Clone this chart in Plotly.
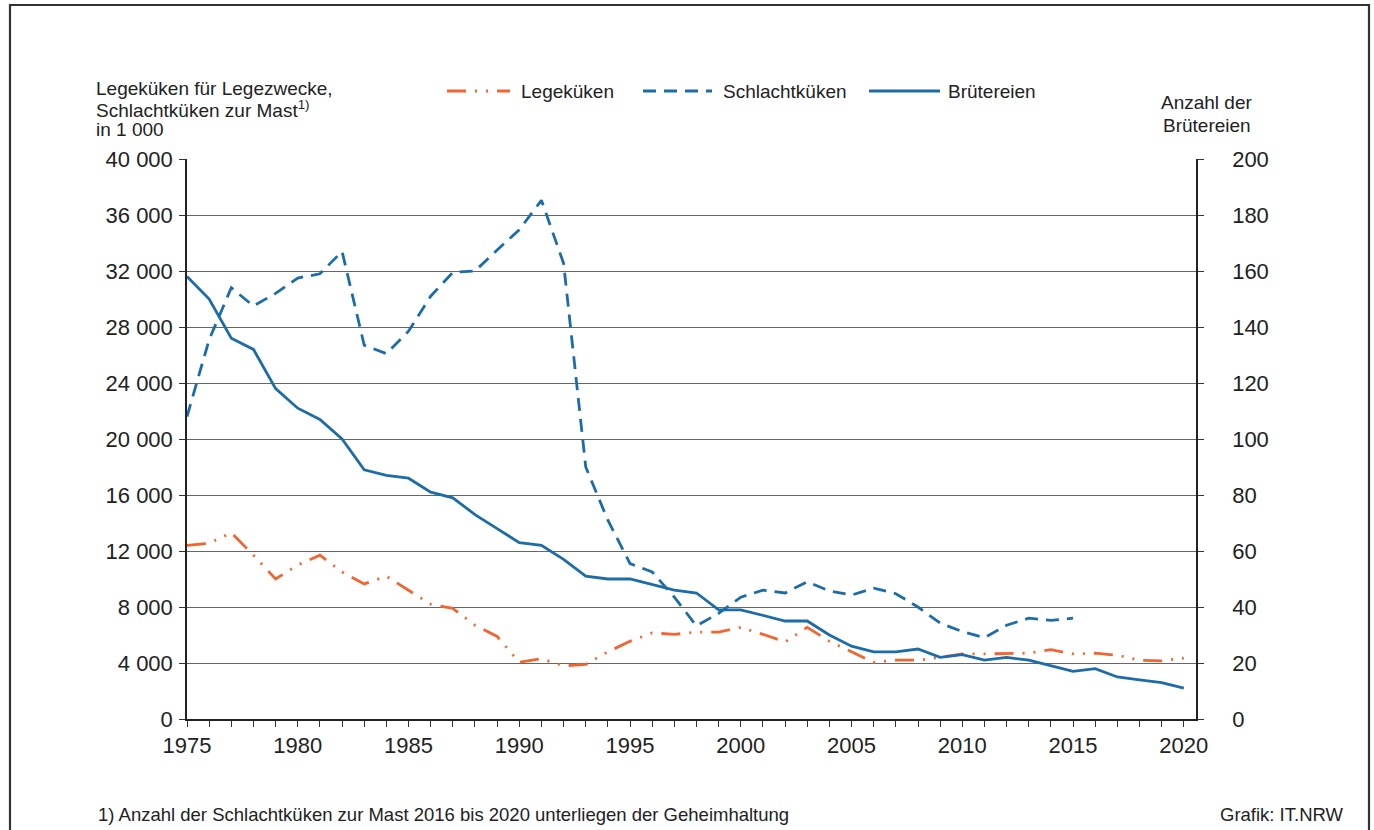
import plotly.graph_objects as go

years = list(range(1975, 2021))

legekueken = [12400, 12550, 13300, 11700, 10000, 11000, 11700, 10500, 9650, 10200,
              9200, 8200, 7900, 6700, 5900, 4050, 4300, 3800, 3900, 4800,
              5550, 6150, 6050, 6200, 6200, 6550, 6050, 5500, 6550, 5550,
              4800, 4050, 4200, 4200, 4400, 4650, 4650, 4700, 4700, 4950,
              4650, 4700, 4550, 4200, 4150, 4350]

schlachtkueken = [21600, 27100, 30800, 29500, 30400, 31500, 31800, 33400, 26700, 26100,
                  27700, 30200, 31900, 32000, 33500, 34950, 37050, 32550, 18000, 14200,
                  11100, 10500, 8700, 6650, 7550, 8700, 9200, 9000, 9800, 9150,
                  8850, 9350, 8950, 8000, 6850, 6250, 5800, 6700, 7200, 7050,
                  7200, None, None, None, None, None]

bruetereien = [158, 150, 136, 132, 118, 111, 107, 100, 89, 87,
               86, 81, 79, 73, 68, 63, 62, 57, 51, 50,
               50, 48, 46, 45, 39, 39, 37, 35, 35, 30,
               26, 24, 24, 25, 22, 23, 21, 22, 21, 19,
               17, 18, 15, 14, 13, 11]

left_ticks = list(range(0, 40001, 4000))
left_ticktext = ["0" if v == 0 else f"{v // 1000} 000" for v in left_ticks]

ORANGE = "#F26430"
BLUE = "#1B6CA8"
TXT = "#222222"
FONT = "Liberation Sans, Arial, sans-serif"

ORANGE_DASH = "19px,9px,2px,9px,2px,9px"
BLUE_DASH = "13px,8px"

# plot area in pixels
L, R, T, B = 187, 1196, 159, 719
W, H = 1374, 830


def px_x(px):
    return (px - L) / (R - L)


def px_y(py):
    return (B - py) / (B - T)


fig = go.Figure()
fig.add_trace(go.Scatter(x=years, y=legekueken, name="Legeküken", mode="lines",
                         line=dict(color=ORANGE, width=2.8, dash=ORANGE_DASH),
                         showlegend=False))
fig.add_trace(go.Scatter(x=years, y=schlachtkueken, name="Schlachtküken", mode="lines",
                         line=dict(color=BLUE, width=2.8, dash=BLUE_DASH),
                         connectgaps=False, showlegend=False))
fig.add_trace(go.Scatter(x=years, y=bruetereien, name="Brütereien", mode="lines",
                         line=dict(color=BLUE, width=2.8), yaxis="y2",
                         showlegend=False))

shapes = []
annotations = []

# frame around the graphic
shapes.append(dict(type="rect", xref="paper", yref="paper",
                   x0=px_x(10), x1=px_x(1369), y0=px_y(845), y1=px_y(5),
                   line=dict(color="#333333", width=2.2), layer="below"))

# manual legend
legend_items = [
    ("Legeküken", ORANGE, ORANGE_DASH, 447, 510, 519),
    ("Schlachtküken", BLUE, BLUE_DASH, 643, 712, 721),
    ("Brütereien", BLUE, "solid", 869, 940, 946),
]
ly = 91
for name, col, dash, x0, x1, tx in legend_items:
    shapes.append(dict(type="line", xref="paper", yref="paper",
                       x0=px_x(x0), x1=px_x(x1), y0=px_y(ly), y1=px_y(ly),
                       line=dict(color=col, width=2.8, dash=dash)))
    annotations.append(dict(text=name, xref="paper", yref="paper",
                            x=px_x(tx), y=px_y(ly), xanchor="left", yanchor="middle",
                            showarrow=False, font=dict(size=19, color=TXT, family=FONT)))

# axis titles
for txt, py in [("Legeküken für Legezwecke,", 88),
                ("Schlachtküken zur Mast<sup>1)</sup>", 109),
                ("in 1 000", 130)]:
    annotations.append(dict(text=txt, xref="paper", yref="paper",
                            x=px_x(94), y=px_y(py), xanchor="left", yanchor="middle",
                            showarrow=False, font=dict(size=19, color=TXT, family=FONT)))
for txt, py in [("Anzahl der", 103), ("Brütereien", 125)]:
    annotations.append(dict(text=txt, xref="paper", yref="paper",
                            x=px_x(1207), y=px_y(py), xanchor="center", yanchor="middle",
                            showarrow=False, font=dict(size=19, color=TXT, family=FONT)))

# footnote and source
annotations.append(dict(text="1) Anzahl der Schlachtküken zur Mast 2016 bis 2020 unterliegen der Geheimhaltung",
                        xref="paper", yref="paper", x=px_x(96), y=px_y(814),
                        xanchor="left", yanchor="middle", showarrow=False,
                        font=dict(size=18.5, color=TXT, family=FONT)))
annotations.append(dict(text="Grafik: IT.NRW", xref="paper", yref="paper",
                        x=px_x(1346), y=px_y(814), xanchor="right", yanchor="middle",
                        showarrow=False, font=dict(size=18.5, color=TXT, family=FONT)))

fig.update_layout(
    width=W, height=H,
    margin=dict(l=L, r=W - R, t=T, b=H - B, pad=0),
    paper_bgcolor="white", plot_bgcolor="white",
    font=dict(family=FONT, color=TXT),
    showlegend=False,
    shapes=shapes,
    annotations=annotations,
    xaxis=dict(range=[1975, 2020.55], tickmode="linear", tick0=1975, dtick=5,
               ticks="outside", ticklen=6, tickwidth=1.2, tickcolor="#333333",
               showgrid=False, zeroline=False, showline=True, linecolor="#222222",
               linewidth=1.5, tickfont=dict(size=22, color=TXT, family=FONT),
               ticklabelstandoff=0,
               minor=dict(dtick=1, tick0=1975, ticks="outside", ticklen=6,
                          tickwidth=1.2, tickcolor="#333333", showgrid=False)),
    yaxis=dict(range=[0, 40000], tickmode="array", tickvals=left_ticks,
               ticktext=left_ticktext, ticks="outside", ticklen=6, tickwidth=1.2,
               tickcolor="#333333", showgrid=True, gridcolor="#666666", gridwidth=1.4,
               zeroline=False, showline=True, linecolor="#222222", linewidth=1.5,
               tickfont=dict(size=22, color=TXT, family=FONT), ticklabelstandoff=2),
    yaxis2=dict(range=[0, 200], tickmode="linear", tick0=0, dtick=20,
                overlaying="y", side="right", anchor="x",
                ticks="outside", ticklen=6, tickwidth=1.2, tickcolor="#333333",
                showgrid=False, zeroline=False, showline=True, linecolor="#222222",
                linewidth=1.5, tickfont=dict(size=22, color=TXT, family=FONT),
                ticklabelstandoff=24),
)

fig.write_html("out.html", config={"displayModeBar": False},
               post_script="document.body.style.margin='0';")
